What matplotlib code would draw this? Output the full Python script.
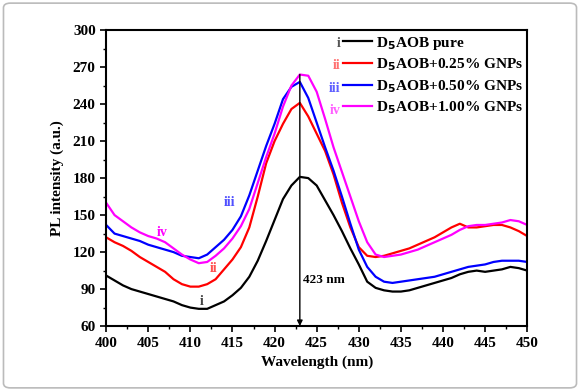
import matplotlib
matplotlib.use("Agg")
import matplotlib.pyplot as plt
from matplotlib.patches import FancyBboxPatch
from matplotlib.ticker import MultipleLocator

plt.rcParams['font.family'] = ['Liberation Serif', 'DejaVu Serif']
plt.rcParams['font.weight'] = 'bold'

# wavelength (nm)
wl = list(range(400, 451))

# i  - D5AOB pure
pure = [101, 97, 93, 90, 88, 86, 84, 82, 80, 77, 75, 74, 74, 77, 80, 85, 91, 100, 113, 129,
        146, 163, 174, 181, 180, 174, 162, 150, 137, 123, 110, 96, 91, 89, 88, 88, 89, 91, 93, 95,
        97, 99, 102, 104, 105, 104, 105, 106, 108, 107, 105]
# ii - D5AOB + 0.25% GNPs
g025 = [132, 128, 125, 121, 116, 112, 108, 104, 98, 94, 92, 92, 94, 98, 106, 114, 124, 140, 165, 192,
        210, 224, 236, 241, 230, 216, 202, 183, 160, 140, 124, 117, 116, 117, 119, 121, 123, 126, 129, 132,
        136, 140, 143, 140, 140, 141, 142, 142, 140, 137, 133]
# iii - D5AOB + 0.50% GNPs
g050 = [142, 135, 133, 131, 129, 126, 124, 122, 120, 117, 116, 115, 118, 124, 130, 138, 149, 166, 186, 206,
        224, 244, 254, 258, 245, 225, 205, 186, 165, 143, 122, 108, 100, 96, 95, 96, 97, 98, 99, 100,
        102, 104, 106, 108, 109, 110, 112, 113, 113, 113, 112]
# iv - D5AOB + 1.00% GNPs
g100 = [160, 150, 145, 140, 136, 133, 131, 128, 123, 118, 114, 111, 112, 117, 123, 131, 141, 155, 176, 197,
        216, 238, 255, 264, 263, 250, 228, 205, 185, 165, 145, 128, 118, 116, 117, 118, 120, 122, 125, 128,
        131, 134, 138, 141, 142, 142, 143, 144, 146, 145, 142]

series = [pure, g025, g050, g100]
labels = ['D$_5$AOB pure', 'D$_5$AOB+0.25% GNPs', 'D$_5$AOB+0.50% GNPs', 'D$_5$AOB+1.00% GNPs']
numerals = ['i', 'ii', 'iii', 'iv']
colors = ['black', 'red', 'blue', 'magenta']
num_colors = ['#555555', '#ff7070', '#6060ff', '#ff60ff']

fig = plt.figure(figsize=(5.8, 3.91), dpi=100)
ax = fig.add_axes([0.183, 0.166, 0.726, 0.757])

for y, lab, c in zip(series, labels, colors):
    ax.plot(wl, y, color=c, lw=1.6, label=lab)

ax.set_xlim(400, 450)
ax.set_ylim(60, 300)
ax.xaxis.set_major_locator(MultipleLocator(5))
ax.xaxis.set_minor_locator(MultipleLocator(2.5))
ax.yaxis.set_major_locator(MultipleLocator(30))
ax.yaxis.set_minor_locator(MultipleLocator(15))
ax.tick_params(which='major', direction='out', length=4, width=1.2, labelsize=11)
ax.tick_params(which='minor', direction='out', length=2.5, width=1.0)
for s in ax.spines.values():
    s.set_linewidth(1.5)

ax.set_xlabel('Wavelength (nm)', fontsize=11, fontweight='bold', labelpad=4)
ax.set_ylabel('PL intensity (a.u.)', fontsize=11, fontweight='bold', labelpad=6)

# peak marker
ax.annotate('', xy=(423, 60), xytext=(423, 264),
            arrowprops=dict(arrowstyle='-|>', color='black', lw=1.0, mutation_scale=8,
                            shrinkA=0, shrinkB=0))
ax.text(423.4, 97, '423 nm', fontsize=9.5, fontweight='bold', va='center', ha='left')

# curve numerals
ax.text(406.6, 136, 'iv', color='magenta', fontsize=10, fontweight='bold', ha='center', va='center')
ax.text(414.6, 160, 'iii', color='#5050ff', fontsize=10, fontweight='bold', ha='center', va='center')
ax.text(412.8, 107, 'ii', color='#ff5050', fontsize=10, fontweight='bold', ha='center', va='center')
ax.text(411.4, 80, 'i', color='#444444', fontsize=10, fontweight='bold', ha='center', va='center')

leg = ax.legend(loc='upper left', bbox_to_anchor=(0.563, 0.985), frameon=False, fontsize=11.1,
                handlelength=1.9, handletextpad=0.25, labelspacing=0.32, borderaxespad=0,
                borderpad=0)
for t in leg.get_texts():
    t.set_fontweight('bold')

# legend numerals
leg_y = [0.956, 0.882, 0.804, 0.730]
for n, c, yy in zip(numerals, num_colors, leg_y):
    ax.text(0.556, yy, n, color=c, fontsize=10, fontweight='bold', ha='right', va='center',
            transform=ax.transAxes)

# outer rounded frame
fig.patches.append(FancyBboxPatch((0.006, 0.008), 0.988, 0.984, boxstyle='round,pad=0,rounding_size=0.012',
                                  transform=fig.transFigure, fill=False, edgecolor='#bbbbbb', lw=1.2))

fig.savefig('out.png', dpi=100)
